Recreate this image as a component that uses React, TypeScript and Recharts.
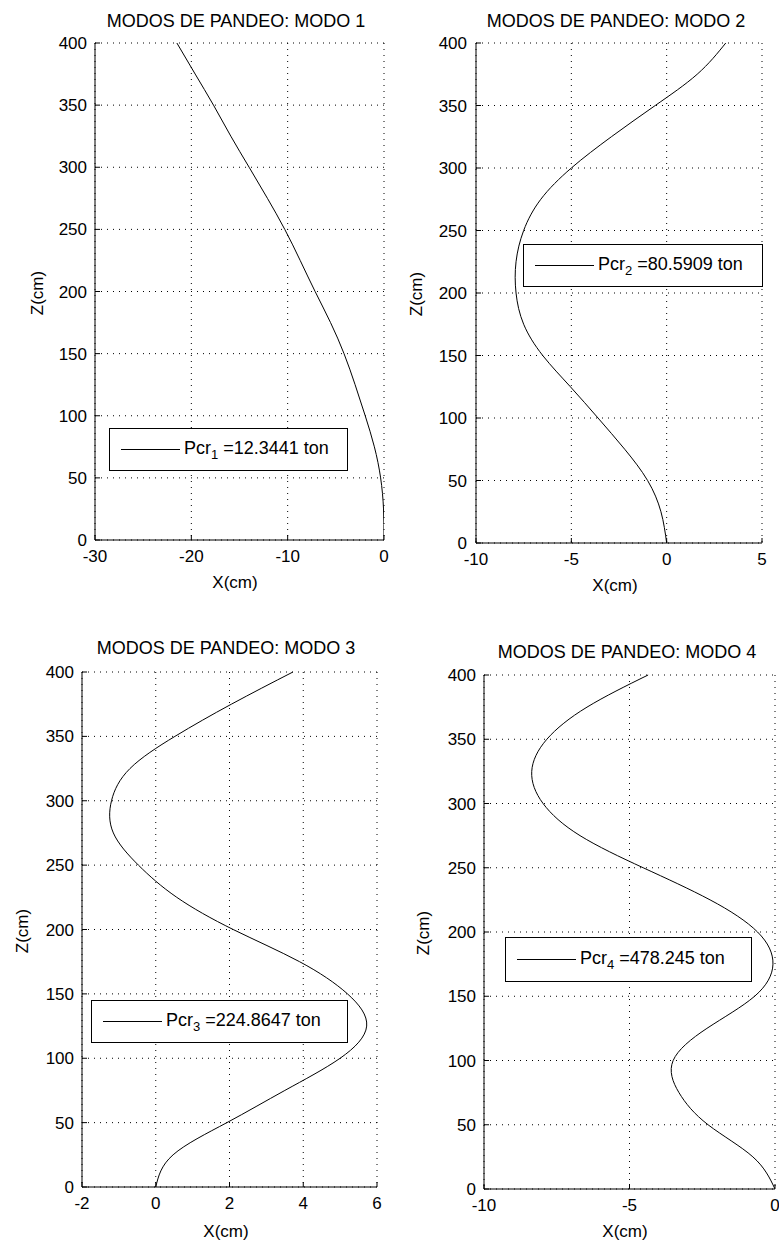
import React from 'react';
import { ComposedChart, Line, XAxis, YAxis, CartesianGrid, Legend } from 'recharts';

// heights along the column (cm), shared by all four modes
const zLevels = [0, 25, 50, 75, 100, 125, 150, 175, 200, 225, 250, 275, 300, 325, 350, 375, 400];

// lateral displacement X(cm) read at each height
const mode1X = [0, -0.05, -0.35, -1.0, -1.95, -3.0, -4.15, -5.55, -7.15, -8.7, -10.3, -12.1, -14.0, -15.9, -17.7, -19.6, -21.5];
const mode2X = [0, -0.3, -1.0, -2.2, -3.6, -5.05, -6.5, -7.5, -7.9, -7.9, -7.5, -6.6, -5.0, -2.9, -0.6, 1.6, 3.1];
const mode3X = [0, 0.47, 1.93, 3.5, 5.0, 5.72, 5.2, 3.9, 2.1, 0.57, -0.47, -1.15, -1.2, -0.7, 0.52, 2.05, 3.72];
const mode4X = [0, -0.76, -2.3, -3.3, -3.5, -2.34, -0.7, -0.07, -0.6, -2.23, -4.53, -6.7, -7.97, -8.36, -7.84, -6.46, -4.36];

const zTicks = [0, 50, 100, 150, 200, 250, 300, 350, 400];
const xTicks1 = [-30, -20, -10, 0];
const xTicks2 = [-10, -5, 0, 5];
const xTicks3 = [-2, 0, 2, 4, 6];
const xTicks4 = [-10, -5, 0];

const titles = ['MODOS DE PANDEO: MODO 1', 'MODOS DE PANDEO: MODO 2', 'MODOS DE PANDEO: MODO 3', 'MODOS DE PANDEO: MODO 4'];
const pcrSub = ['1', '2', '3', '4'];
const pcrValues = ['12.3441', '80.5909', '224.8647', '478.245'];

const FONT = '"Liberation Sans", Arial, Helvetica, sans-serif';
const PAD_L = 80;
const PAD_T = 43;
const PAD_R = 12;
const PAD_B = 60;

type Box = { l: number; t: number; r: number; b: number };

function Panel(props: {
  i: number;
  xs: number[];
  xTicks: number[];
  plot: Box;
  legend: Box;
  title: [number, number];
  xLabel: [number, number];
  zLabel: [number, number];
  yTickGap: number;
}) {
  const { i, xs, xTicks, plot, legend, title, xLabel, zLabel, yTickGap } = props;
  const data = zLevels.map((z, k) => ({ z, x: xs[k] }));
  const domain: [number, number] = [xTicks[0], xTicks[xTicks.length - 1]];
  const left = plot.l - PAD_L;
  const top = plot.t - PAD_T;
  const W = plot.r - plot.l + PAD_L + PAD_R;
  const H = plot.b - plot.t + PAD_T + PAD_B;
  const tickStyle = { fill: '#000', fontSize: 17, fontFamily: FONT };

  return (
    <>
      <div style={{ position: 'absolute', left, top }}>
        <ComposedChart
          layout="vertical"
          width={W}
          height={H}
          data={data}
          margin={{ top: PAD_T, right: PAD_R, bottom: PAD_B - 30, left: PAD_L - 60 }}
        >
          <CartesianGrid stroke="#000" strokeDasharray="1 5" />
          <XAxis
            type="number"
            domain={domain}
            ticks={xTicks}
            interval={0}
            allowDataOverflow
            height={30}
            tickSize={-5}
            tickMargin={15}
            stroke="#000"
            tick={tickStyle}
          />
          <XAxis xAxisId="top" orientation="top" type="number" domain={domain} ticks={xTicks} interval={0} height={0} tickSize={-5} tick={false} stroke="#000" />
          <YAxis
            type="number"
            dataKey="z"
            domain={[0, 400]}
            ticks={zTicks}
            interval={0}
            reversed
            width={60}
            tickSize={-5}
            tickMargin={yTickGap}
            stroke="#000"
            tick={tickStyle}
          />
          <YAxis yAxisId="right" orientation="right" type="number" domain={[0, 400]} ticks={zTicks} interval={0} reversed width={0} tickSize={-5} tick={false} stroke="#000" />
          <Line
            dataKey="x"
            name={'Pcr' + pcrSub[i]}
            type="natural"
            stroke="#000"
            strokeWidth={1}
            dot={false}
            isAnimationActive={false}
          />
          <Legend
            layout="vertical"
            align="center"
            verticalAlign="middle"
            wrapperStyle={{ left: legend.l - left, top: legend.t - top, width: legend.r - legend.l, height: legend.b - legend.t }}
            content={() => (
              <div
                style={{
                  boxSizing: 'border-box',
                  width: legend.r - legend.l,
                  height: legend.b - legend.t,
                  border: '1px solid #000',
                  background: '#fff',
                  display: 'flex',
                  alignItems: 'center',
                  fontFamily: FONT,
                  fontSize: 18,
                  color: '#000',
                  whiteSpace: 'nowrap',
                }}
              >
                <span style={{ display: 'inline-block', width: 59, borderTop: '1px solid #000', marginLeft: 11, marginRight: 4 }} />
                <span>
                  Pcr<sub style={{ fontSize: 13 }}>{pcrSub[i]}</sub> ={pcrValues[i]} ton
                </span>
              </div>
            )}
          />
        </ComposedChart>
      </div>
      <div style={{ position: 'absolute', left: title[0], top: title[1], transform: 'translate(-50%, -50%)', fontFamily: FONT, fontSize: 18, lineHeight: 1, whiteSpace: 'nowrap' }}>
        {titles[i]}
      </div>
      <div style={{ position: 'absolute', left: xLabel[0], top: xLabel[1], transform: 'translate(-50%, -50%)', fontFamily: FONT, fontSize: 17, lineHeight: 1, whiteSpace: 'nowrap' }}>
        X(cm)
      </div>
      <div style={{ position: 'absolute', left: zLabel[0], top: zLabel[1], transform: 'translate(-50%, -50%) rotate(-90deg)', fontFamily: FONT, fontSize: 17, lineHeight: 1, whiteSpace: 'nowrap' }}>
        Z(cm)
      </div>
    </>
  );
}

export default function App() {
  return (
    <div style={{ position: 'absolute', left: 0, top: 0, width: 779, height: 1245, background: '#fff', overflow: 'hidden' }}>
      <Panel i={0} xs={mode1X} xTicks={xTicks1} plot={{ l: 95, t: 43, r: 384, b: 540 }} legend={{ l: 109, t: 428, r: 348, b: 471 }} title={[236, 21]} xLabel={[235, 582]} zLabel={[37, 293]} yTickGap={13} />
      <Panel i={1} xs={mode2X} xTicks={xTicks2} plot={{ l: 476, t: 43, r: 762, b: 543 }} legend={{ l: 523, t: 244, r: 763, b: 287 }} title={[616, 21]} xLabel={[615, 585]} zLabel={[416, 294]} yTickGap={14} />
      <Panel i={2} xs={mode3X} xTicks={xTicks3} plot={{ l: 82, t: 672, r: 377, b: 1187 }} legend={{ l: 91, t: 1000, r: 348, b: 1043 }} title={[226, 648]} xLabel={[226, 1231]} zLabel={[22, 931]} yTickGap={13} />
      <Panel i={3} xs={mode4X} xTicks={xTicks4} plot={{ l: 484, t: 675, r: 775, b: 1189 }} legend={{ l: 505, t: 937, r: 752, b: 982 }} title={[627, 652]} xLabel={[625, 1231]} zLabel={[423, 933]} yTickGap={13} />
    </div>
  );
}
